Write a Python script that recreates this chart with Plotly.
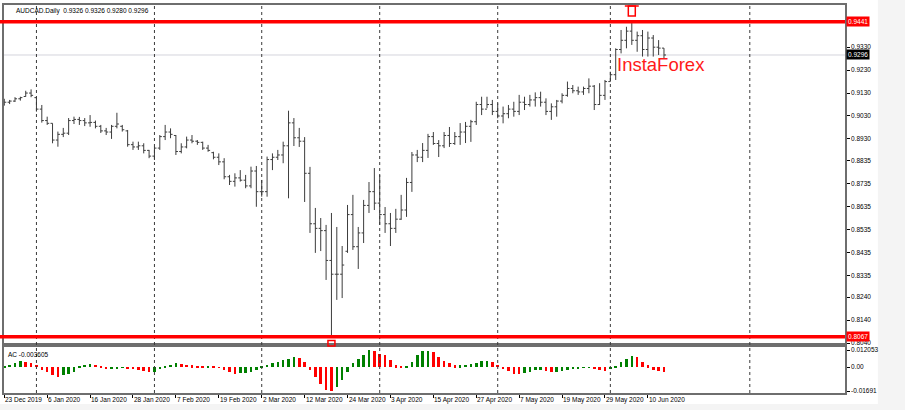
import plotly.graph_objects as go

# ---------------- data (AUDCAD daily) ----------------
opens = [0.9080, 0.9090, 0.9095, 0.9105, 0.9115, 0.9130, 0.9110, 0.9060, 0.9010, 0.8998,
         0.8925, 0.8950, 0.8955, 0.9010, 0.9015, 0.9010, 0.9000, 0.9002, 0.8985, 0.8965,
         0.8960, 0.8985, 0.8985, 0.8965, 0.8905, 0.8895, 0.8900, 0.8880, 0.8855, 0.8890,
         0.8940, 0.8960, 0.8945, 0.8875, 0.8895, 0.8925, 0.8920, 0.8915, 0.8890, 0.8870,
         0.8850, 0.8830, 0.8765, 0.8745, 0.8760, 0.8750, 0.8725, 0.8790, 0.8700, 0.8700,
         0.8840, 0.8850, 0.8860, 0.8900, 0.9000, 0.8935, 0.8920, 0.8780, 0.8560, 0.8540,
         0.8530, 0.8400, 0.8340, 0.8340, 0.8440, 0.8600, 0.8460, 0.8520, 0.8640, 0.8700,
         0.8650, 0.8600, 0.8560, 0.8540, 0.8580, 0.8620, 0.8740, 0.8860, 0.8850, 0.8880,
         0.8940, 0.8910, 0.8900, 0.8945, 0.8910, 0.8940, 0.8960, 0.8985, 0.9005, 0.9080,
         0.9060, 0.9080, 0.9050, 0.9030, 0.9040, 0.9060, 0.9050, 0.9090, 0.9080, 0.9100,
         0.9110, 0.9090, 0.9050, 0.9070, 0.9095, 0.9120, 0.9150, 0.9140, 0.9135, 0.9150,
         0.9160, 0.9080, 0.9120, 0.9180, 0.9210, 0.9320, 0.9360, 0.9400, 0.9360, 0.9380,
         0.9320, 0.9370, 0.9330, 0.9326]
highs = [0.9105, 0.9100, 0.9112, 0.9114, 0.9140, 0.9146, 0.9114, 0.9078, 0.9027, 0.8998,
         0.8962, 0.8978, 0.9021, 0.9027, 0.9026, 0.9021, 0.9034, 0.9010, 0.8991, 0.8978,
         0.8991, 0.9044, 0.8991, 0.8969, 0.8918, 0.8918, 0.8911, 0.8882, 0.8896, 0.8947,
         0.8991, 0.8976, 0.8947, 0.8911, 0.8940, 0.8947, 0.8925, 0.8918, 0.8904, 0.8874,
         0.8867, 0.8846, 0.8773, 0.8780, 0.8794, 0.8773, 0.8809, 0.8812, 0.8751, 0.8853,
         0.8867, 0.8882, 0.8918, 0.9053, 0.9021, 0.8978, 0.8938, 0.8808, 0.8629, 0.8585,
         0.8555, 0.8607, 0.8546, 0.8463, 0.8642, 0.8686, 0.8546, 0.8664, 0.8742, 0.8803,
         0.8773, 0.8633, 0.8607, 0.8625, 0.8686, 0.8760, 0.8873, 0.8882, 0.8912, 0.8952,
         0.8960, 0.8925, 0.8960, 0.8982, 0.8960, 0.8999, 0.9004, 0.9013, 0.9092, 0.9114,
         0.9114, 0.9100, 0.9085, 0.9071, 0.9078, 0.9092, 0.9122, 0.9114, 0.9122, 0.9133,
         0.9136, 0.9107, 0.9085, 0.9100, 0.9129, 0.9180, 0.9165, 0.9158, 0.9158, 0.9194,
         0.9165, 0.9173, 0.9187, 0.9223, 0.9325, 0.9405, 0.9419, 0.9441, 0.9398, 0.9405,
         0.9398, 0.9383, 0.9361, 0.9326]
lows = [0.9075, 0.9082, 0.9091, 0.9097, 0.9114, 0.9112, 0.9049, 0.9001, 0.8991, 0.8911,
        0.8896, 0.8938, 0.8947, 0.8995, 0.8991, 0.8986, 0.8983, 0.8976, 0.8956, 0.8947,
        0.8930, 0.8976, 0.8962, 0.8896, 0.8882, 0.8882, 0.8867, 0.8846, 0.8838, 0.8882,
        0.8925, 0.8933, 0.8860, 0.8867, 0.8889, 0.8911, 0.8904, 0.8882, 0.8874, 0.8841,
        0.8816, 0.8754, 0.8729, 0.8722, 0.8744, 0.8715, 0.8715, 0.8634, 0.8678, 0.8678,
        0.8794, 0.8838, 0.8824, 0.8671, 0.8899, 0.8895, 0.8655, 0.8520, 0.8433, 0.8441,
        0.8315, 0.8067, 0.8228, 0.8236, 0.8433, 0.8446, 0.8363, 0.8476, 0.8607, 0.8620,
        0.8555, 0.8520, 0.8463, 0.8520, 0.8577, 0.8590, 0.8699, 0.8829, 0.8829, 0.8847,
        0.8904, 0.8851, 0.8890, 0.8895, 0.8904, 0.8904, 0.8912, 0.8917, 0.8991, 0.9034,
        0.9064, 0.9034, 0.9020, 0.8998, 0.9020, 0.9027, 0.9034, 0.9056, 0.9071, 0.9071,
        0.9071, 0.9034, 0.9013, 0.9027, 0.9085, 0.9114, 0.9129, 0.9122, 0.9122, 0.9129,
        0.9056, 0.9078, 0.9100, 0.9180, 0.9187, 0.9303, 0.9325, 0.9340, 0.9310, 0.9289,
        0.9289, 0.9289, 0.9296, 0.9280]
closes = [0.9090, 0.9095, 0.9105, 0.9110, 0.9130, 0.9120, 0.9060, 0.9010, 0.8998, 0.8925,
          0.8950, 0.8955, 0.9010, 0.9015, 0.9010, 0.9000, 0.9002, 0.8985, 0.8965, 0.8960,
          0.8985, 0.8995, 0.8970, 0.8905, 0.8895, 0.8900, 0.8880, 0.8855, 0.8890, 0.8940,
          0.8960, 0.8950, 0.8875, 0.8895, 0.8925, 0.8920, 0.8915, 0.8890, 0.8880, 0.8850,
          0.8830, 0.8765, 0.8745, 0.8760, 0.8750, 0.8725, 0.8790, 0.8700, 0.8700, 0.8840,
          0.8850, 0.8860, 0.8900, 0.9000, 0.8935, 0.8920, 0.8780, 0.8560, 0.8540, 0.8530,
          0.8400, 0.8340, 0.8340, 0.8380, 0.8600, 0.8460, 0.8520, 0.8640, 0.8700, 0.8650,
          0.8600, 0.8560, 0.8540, 0.8580, 0.8620, 0.8740, 0.8860, 0.8850, 0.8880, 0.8940,
          0.8910, 0.8900, 0.8945, 0.8910, 0.8940, 0.8960, 0.8985, 0.9005, 0.9080, 0.9060,
          0.9080, 0.9050, 0.9030, 0.9040, 0.9060, 0.9050, 0.9090, 0.9080, 0.9100, 0.9110,
          0.9090, 0.9050, 0.9070, 0.9095, 0.9120, 0.9150, 0.9140, 0.9135, 0.9150, 0.9160,
          0.9080, 0.9120, 0.9180, 0.9210, 0.9320, 0.9360, 0.9400, 0.9360, 0.9380, 0.9320,
          0.9370, 0.9330, 0.9326, 0.9296]
ac_values = [0.0003, 0.0018, 0.0028, 0.0040, 0.0033, 0.0028, 0.0018, -0.0018, -0.0035, -0.0056,
             -0.0071, -0.0059, -0.0047, -0.0035, 0.0005, 0.0018, 0.0024, 0.0017, 0.0005, -0.0012,
             -0.0009, -0.0007, -0.0005, -0.0009, -0.0012, -0.0018, -0.0028, -0.0035, -0.0033, -0.0017,
             0.0009, 0.0018, 0.0028, 0.0024, 0.0017, 0.0012, 0.0005, 0.0003, 0.0009, 0.0005,
             -0.0005, -0.0018, -0.0037, -0.0047, -0.0042, -0.0040, -0.0035, -0.0018, 0.0005, 0.0018,
             0.0028, 0.0035, 0.0047, 0.0059, 0.0071, 0.0066, 0.0035, -0.0019, -0.0071, -0.0122,
             -0.0160, -0.01691, -0.0141, -0.0094, -0.0035, 0.0028, 0.0059, 0.0082, 0.012053, 0.0113,
             0.0094, 0.0082, 0.0052, 0.0012, 0.0004, 0.0006, 0.0035, 0.0082, 0.0112, 0.0117,
             0.0106, 0.0071, 0.0042, 0.0028, 0.0012, 0.0013, 0.0016, 0.0019, 0.0028, 0.0042,
             0.0044, 0.0033, 0.0018, -0.0014, -0.0028, -0.0047, -0.0052, -0.0042, -0.0033, -0.0024,
             -0.0018, -0.0030, -0.0037, -0.0035, -0.0028, -0.0024, -0.0014, -0.0009, -0.0005, -0.0003,
             -0.0014, -0.0021, -0.0028, -0.0014, 0.0005, 0.0033, 0.0059, 0.0075, 0.0071, 0.0038,
             0.0014, -0.0018, -0.0030, -0.003605]
date_labels = ["23 Dec 2019", "6 Jan 2020", "16 Jan 2020", "28 Jan 2020", "7 Feb 2020",
               "19 Feb 2020", "2 Mar 2020", "12 Mar 2020", "24 Mar 2020", "3 Apr 2020",
               "15 Apr 2020", "27 Apr 2020", "7 May 2020", "19 May 2020", "29 May 2020",
               "10 Jun 2020"]
label_step = 8                       # one date label every 8 bars
month_start_bars = [6, 28, 48, 70, 92, 113, 139]
price_ticks = [0.9330, 0.9230, 0.9130, 0.9030, 0.8930, 0.8835, 0.8735, 0.8635,
               0.8535, 0.8435, 0.8335, 0.8240, 0.8140, 0.8040]
ac_ticks = [0.012053, 0.0, -0.01691]
ac_tick_text = ["0.012053", "0.00", "-0.01691"]
level_high = 0.9441
level_low = 0.8067
bid_price = 0.9296
symbol_title = "AUDCAD.Daily  0.9326 0.9326 0.9280 0.9296"
ac_title = "AC -0.003605"
brand_text = "InstaForex"

# ---------------- figure ----------------
n = len(closes)
idx = list(range(n))
label_idx = [i * label_step for i in range(len(date_labels))]
ac_colors = ["#008000"] + ["#008000" if ac_values[i] >= ac_values[i - 1] else "#ff0000"
                           for i in range(1, n)]

W, H = 905, 410
ML, MR, MT, MB = 2, 60, 5, 17
plot_h = H - MT - MB
main_bottom = (H - MB - 343) / plot_h
ac_top = (H - MB - 347) / plot_h

def py(px):
    return (H - MB - px) / plot_h

FONT = "Liberation Sans, Arial, sans-serif"
fs = 6.5

fig = go.Figure()
fig.add_trace(go.Ohlc(x=idx, open=opens, high=highs, low=lows, close=closes,
                      increasing=dict(line=dict(color="#3c3c3c", width=1)),
                      decreasing=dict(line=dict(color="#3c3c3c", width=1)),
                      tickwidth=0.38, xaxis="x", yaxis="y", hoverinfo="skip"))
fig.add_trace(go.Bar(x=idx, y=ac_values, marker=dict(color=ac_colors, line=dict(width=0)),
                     width=0.48, xaxis="x2", yaxis="y2", hoverinfo="skip"))

xr = [-0.05, 156.75]
frame = "#6e6e6e"
fig.update_layout(
    width=W, height=H, margin=dict(l=ML, r=MR, t=MT, b=MB),
    paper_bgcolor="white", plot_bgcolor="white", showlegend=False,
    font=dict(family=FONT, size=fs, color="#000000"),
    xaxis=dict(domain=[0, 1], range=xr, anchor="y", showgrid=False, zeroline=False,
               showticklabels=False, showline=True, mirror=True, linecolor=frame,
               linewidth=1.5, rangeslider=dict(visible=False), fixedrange=True),
    xaxis2=dict(domain=[0, 1], range=xr, anchor="y2", showgrid=False, zeroline=False,
                showticklabels=False, showline=True, mirror=True, linecolor=frame,
                linewidth=1.5, tickmode="array", tickvals=label_idx, ticks="outside",
                ticklen=3, tickcolor="#000000"),
    yaxis=dict(domain=[main_bottom, 1], range=[0.8040, 0.9514], side="right",
               showgrid=False, zeroline=False, showline=True, mirror=True,
               linecolor=frame, linewidth=1.5, tickmode="array", tickvals=price_ticks,
               ticktext=[f"{v:.4f}" for v in price_ticks], ticks="outside", ticklen=3,
               tickcolor="#000000", tickfont=dict(size=fs, family=FONT)),
    yaxis2=dict(domain=[0, ac_top], range=[-0.01832, 0.01417], side="right",
                showgrid=False, zeroline=False, showline=True, mirror=True,
                linecolor=frame, linewidth=1.5, tickmode="array", tickvals=ac_ticks,
                ticktext=ac_tick_text, ticks="outside", ticklen=3, tickcolor="#000000",
                tickfont=dict(size=fs, family=FONT)),
    bargap=0,
)

shapes = []
# light grey window edges
shapes.append(dict(type="rect", xref="paper", yref="paper", x0=-0.01, x1=1.08,
                   y0=py(0), y1=py(-2), fillcolor="#f0f0f0", line=dict(width=0), layer="below"))
shapes.append(dict(type="rect", xref="paper", yref="paper", x0=(878 - ML) / (W - ML - MR),
                   x1=1.08, y0=py(412), y1=py(-2), fillcolor="#f4f4f4", line=dict(width=0),
                   layer="below"))
shapes.append(dict(type="rect", xref="paper", yref="paper", x0=-0.01, x1=1.08,
                   y0=py(412), y1=py(404), fillcolor="#f4f4f4", line=dict(width=0),
                   layer="below"))
# month separators
for m in month_start_bars:
    shapes.append(dict(type="line", xref="x", yref="paper", x0=m, x1=m, y0=0, y1=1,
                       line=dict(color="#3a3a3a", width=1, dash="dot"), layer="above"))
# bid line and high/low levels
shapes.append(dict(type="line", xref="paper", yref="y", x0=0, x1=1, y0=bid_price, y1=bid_price,
                   line=dict(color="#d4d4dc", width=1), layer="below"))
for lv in (level_high, level_low):
    shapes.append(dict(type="line", xref="paper", yref="y", x0=-0.01, x1=1, y0=lv, y1=lv,
                       line=dict(color="#ff0000", width=3.5), layer="above"))
# arrow markers at extreme bars
hi_i = highs.index(max(highs))
lo_i = lows.index(min(lows))
shapes.append(dict(type="rect", xref="x", yref="paper", x0=hi_i - 0.65, x1=hi_i + 0.65,
                   y0=py(16), y1=py(6), line=dict(color="#ff0000", width=1.5)))
shapes.append(dict(type="line", xref="x", yref="paper", x0=hi_i - 1.3, x1=hi_i + 1.3,
                   y0=py(6), y1=py(6), line=dict(color="#ff0000", width=1.5)))
shapes.append(dict(type="rect", xref="x", yref="paper", x0=lo_i - 0.65, x1=lo_i + 0.65,
                   y0=py(346), y1=py(340.5), line=dict(color="#ff0000", width=1.5)))
fig.update_layout(shapes=shapes)

ann = []
ann.append(dict(text=symbol_title, xref="paper", yref="paper", x=(12 - ML) / (W - ML - MR),
                y=py(11), xanchor="left", yanchor="middle", showarrow=False,
                font=dict(size=fs, family=FONT, color="#000000")))
ann.append(dict(text=ac_title, xref="paper", yref="paper", x=(4 - ML) / (W - ML - MR),
                y=py(354), xanchor="left", yanchor="middle", showarrow=False,
                font=dict(size=fs, family=FONT, color="#000000")))
ann.append(dict(text=brand_text, xref="x", yref="y", x=113.9, y=0.9255, xanchor="left",
                yanchor="middle", showarrow=False,
                font=dict(size=18.5, family=FONT, color="#ff1a1a")))
for i, lab in zip(label_idx, date_labels):
    ann.append(dict(text=lab, xref="x2", yref="paper", x=i, y=py(399.5), xanchor="left",
                    yanchor="middle", xshift=-1, showarrow=False,
                    font=dict(size=fs, family=FONT, color="#000000")))
for val, bg in ((level_high, "#ff0000"), (bid_price, "#000000"), (level_low, "#ff0000")):
    ann.append(dict(text=f"{val:.4f}", xref="paper", yref="y", x=1, y=val, xanchor="left",
                    yanchor="middle", xshift=1, showarrow=False, bgcolor=bg, borderpad=1,
                    font=dict(size=fs, family=FONT, color="#ffffff")))
fig.update_layout(annotations=ann)

fig.write_html("out.html", config={"displayModeBar": False},
               post_script="document.body.style.margin='0';document.body.style.padding='0';")
